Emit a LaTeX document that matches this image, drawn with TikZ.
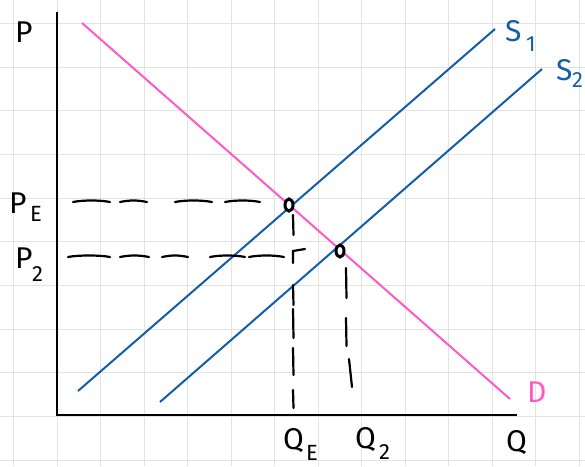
\documentclass[tikz,border=0pt]{standalone}
\usepackage{fontspec}
\usetikzlibrary{shapes.geometric}
\setmainfont{Fira Sans}
\begin{document}
\begin{tikzpicture}[x=1pt,y=-1pt,
  gridline/.style={draw=black!11,line width=1pt},
  axis/.style={draw=black,line width=2.4pt},
  supply/.style={draw=supblue,line width=2pt},
  demand/.style={draw=dempink,line width=2pt},
  guide/.style={draw=black,line width=2.2pt,line cap=round},
  eqdot/.style={draw=black,line width=3pt,ellipse,minimum width=8pt,minimum height=12pt,inner sep=0pt,fill=white},
  lbl/.style={inner sep=0pt,font=\fontsize{30}{30}\selectfont},
  sub/.style={inner sep=0pt,font=\fontsize{22}{22}\selectfont}]
\definecolor{supblue}{HTML}{135DAA}
\definecolor{dempink}{HTML}{FF59C6}
\useasboundingbox (0,0) rectangle (585,466);
\fill[white] (0,0) rectangle (585,466);
% grid
\foreach \gx in {13.5,57,100.5,144,187.5,231,274.5,318,361.5,405,448.5,492,535.5,579}
  \draw[gridline] (\gx,0) -- (\gx,466);
\foreach \gy in {23,67,110.5,154,198,241.5,285,329,372.5,416,460}
  \draw[gridline] (0,\gy) -- (585,\gy);
% axes
\coordinate (ytop) at (57,12);
\coordinate (orig) at (57,415);
\coordinate (xend) at (517,415);
\draw[axis] (ytop) -- (orig) -- (xend);
% curves
\coordinate (d1) at (82,23); \coordinate (d2) at (510,399);
\coordinate (s1a) at (78,391); \coordinate (s1b) at (495,29);
\coordinate (s2a) at (160,402); \coordinate (s2b) at (542,69);
\draw[supply] (s1a) -- (s1b);
\draw[supply] (s2a) -- (s2b);
\draw[demand] (d1) -- (d2);
% guides PE
\foreach \a/\b in {73/110,120/147,175/212,225/260}
  \draw[guide] (\a,202) .. controls (\a+10,200) and (\b-10,200) .. (\b,202);
% guides P2
\foreach \a/\b in {68/110,120/149,162/188,210/245,249/284}
  \draw[guide] (\a,257) .. controls (\a+10,255) and (\b-10,255) .. (\b,257);
\draw[guide] (293,263) -- (293,251) -- (305,249);
% vertical under E
\foreach \a/\b in {215/235,285/305,309/338,348/375,390/408}
  \draw[guide] (293,\a) -- (293.5,\b);
% vertical under second point
\foreach \a/\b in {268/298,318/346}
  \draw[guide] (346,\a) -- (346.5,\b);
\draw[guide] (349,359) -- (352,387);
% points
\node[eqdot] (E) at (289,205) {};
\node[eqdot] (E2) at (340,251) {};
% labels
\node[lbl,anchor=west] (P) at (15,32) {P};
\node[lbl,anchor=west] (PE) at (9,203) {P};
\node[sub,anchor=west] (PEs) at (30,214) {E};
\node[lbl,anchor=west] (P2) at (15,258) {P};
\node[sub,anchor=west] (P2s) at (32,274) {2};
\node[lbl,anchor=west] (QE) at (283,441) {Q};
\node[sub,anchor=west] (QEs) at (306,453) {E};
\node[lbl,anchor=west] (Q2) at (355,440) {Q};
\node[sub,anchor=west] (Q2s) at (379,452) {2};
\node[lbl,anchor=west] (Q) at (506,443) {Q};
\node[lbl,anchor=west,text=supblue] (S1) at (505,31) {S};
\node[sub,anchor=west,text=supblue] (S1s) at (526,44) {1};
\node[lbl,anchor=west,text=supblue] (S2) at (556,70) {S};
\node[sub,anchor=west,text=supblue] (S2s) at (572,80) {2};
\node[lbl,anchor=west,text=dempink] (D) at (527,392) {D};
\end{tikzpicture}
\end{document}
